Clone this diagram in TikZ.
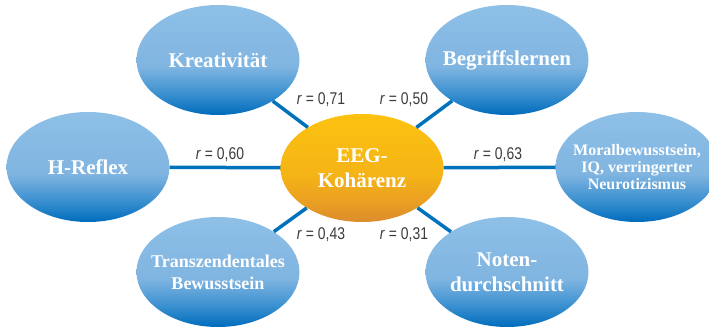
\documentclass[tikz,border=0pt]{standalone}
\usepackage{fontspec}
\setmainfont{Liberation Serif}
\newfontfamily\corrfont[FakeStretch=0.82]{Liberation Sans}
\usetikzlibrary{shapes.geometric}
\definecolor{bubbletop}{RGB}{142,192,231}
\definecolor{bubblemid}{RGB}{128,181,225}
\definecolor{bubblelow}{RGB}{60,145,208}
\definecolor{bubblebot}{RGB}{0,108,188}
\definecolor{coretop}{RGB}{252,194,16}
\definecolor{coremid}{RGB}{245,180,22}
\definecolor{corelow}{RGB}{234,160,34}
\definecolor{corebot}{RGB}{220,140,44}
\definecolor{linkblue}{RGB}{0,114,188}
\definecolor{labelgray}{RGB}{60,60,60}
\pgfdeclareverticalshading{bubbleshade}{100bp}{color(0bp)=(bubblebot);
  color(25bp)=(bubblebot); color(35bp)=(bubblelow); color(47bp)=(bubblemid);
  color(75bp)=(bubbletop); color(100bp)=(bubbletop)}
\pgfdeclareverticalshading{coreshade}{100bp}{color(0bp)=(corebot);
  color(25bp)=(corebot); color(35bp)=(corelow); color(47bp)=(coremid);
  color(75bp)=(coretop); color(100bp)=(coretop)}

\begin{document}
\begin{tikzpicture}[
      x=1pt, y=-1pt,
      bubble/.style={ellipse, minimum width=163pt, minimum height=110pt,
                     inner xsep=-25pt, inner ysep=-20pt, align=center,
                     text=white, font=\bfseries\fontsize{21}{25}\selectfont,
                     shading=bubbleshade},
      core/.style={bubble, shading=coreshade},
      link/.style={draw=linkblue, line width=3.5pt},
      corr/.style={inner sep=0pt, text=labelgray,
                   font=\corrfont\fontsize{17}{19}\selectfont},
    ]
      \useasboundingbox (0,0) rectangle (709,328);
      % outer factors
      \node[bubble] (kreat) at (218,60) {Kreativität};
      \node[bubble] (begr) at (507,60) {Begriffslernen};
      \node[bubble] (hrefl) at (88,167) {H-Reflex};
      \node[bubble, font=\bfseries\fontsize{16}{17}\selectfont] (moral)
            at (637,167) {Moralbewusstsein,\\IQ, verringerter\\Neurotizismus};
      \node[bubble, font=\bfseries\fontsize{18}{22}\selectfont] (trans)
            at (218,272) {Transzendentales\\Bewusstsein};
      \node[bubble] (noten) at (507,272) {Noten-\\durchschnitt};
      % centre
      \node[core, minimum height=108pt] (eeg) at (362,168) {EEG-\\Kohärenz};
      \draw[link] (eeg) -- (kreat);
      \draw[link] (eeg) -- (begr);
      \draw[link] (eeg) -- (hrefl);
      \draw[link] (eeg) -- (moral);
      \draw[link] (eeg) -- (trans);
      \draw[link] (eeg) -- (noten);
      % coefficients
      \node[corr] (c71) at (321,100) {\textit{r} = 0,71};
      \node[corr] (c50) at (404,100) {\textit{r} = 0,50};
      \node[corr] (c60) at (220,155) {\textit{r} = 0,60};
      \node[corr] (c63) at (498,155) {\textit{r} = 0,63};
      \node[corr] (c43) at (321,235) {\textit{r} = 0,43};
      \node[corr] (c31) at (404,235) {\textit{r} = 0,31};
    \end{tikzpicture}
\end{document}
